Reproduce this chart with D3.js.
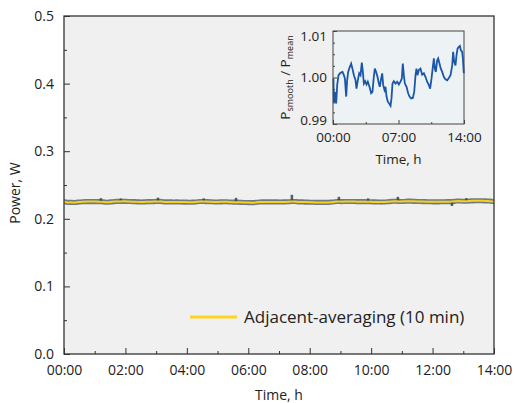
<!DOCTYPE html>
<html>
<head>
<meta charset="utf-8">
<script src="https://cdn.jsdelivr.net/npm/d3@7"></script>
<style>
  body { margin: 0; background: #fff; }
  text { font-family: "Open Sans", "Noto Sans", sans-serif; fill: #222; }
</style>
</head>
<body>
<svg id="chart" width="519" height="403"></svg>
<script>
// inset series: time (h) and P_smooth / P_mean
const ratioHours = [0.05, 0.09, 0.2, 0.34, 0.45, 0.59, 0.8, 1.02, 1.16, 1.27, 1.41, 1.51, 1.62, 1.8, 1.94, 2.08, 2.23, 2.41, 2.51, 2.65, 2.8, 2.94, 3.08, 3.19, 3.3, 3.44, 3.58, 3.72, 3.9, 4.08, 4.22, 4.36, 4.47, 4.61, 4.76, 4.9, 5.0, 5.15, 5.26, 5.36, 5.5, 5.61, 5.72, 5.86, 6.0, 6.15, 6.25, 6.36, 6.5, 6.68, 6.86, 7.04, 7.21, 7.36, 7.46, 7.57, 7.68, 7.86, 8.03, 8.18, 8.35, 8.53, 8.68, 8.82, 8.92, 9.03, 9.17, 9.35, 9.53, 9.71, 9.89, 10.06, 10.24, 10.38, 10.53, 10.67, 10.78, 10.88, 10.99, 11.13, 11.24, 11.38, 11.52, 11.67, 11.85, 12.02, 12.2, 12.38, 12.56, 12.74, 12.84, 12.95, 13.09, 13.2, 13.31, 13.45, 13.56, 13.66, 13.8, 13.88, 13.98];
const ratioValues = [0.9998, 0.9944, 0.9969, 0.9944, 0.9984, 1.0005, 1.0010, 1.0012, 1.0005, 0.9998, 0.9959, 0.9994, 1.0012, 1.0023, 1.0030, 1.0019, 1.0005, 0.9994, 0.9976, 0.9994, 1.0009, 1.0005, 1.0032, 1.0012, 0.9987, 0.9992, 0.9985, 0.9991, 0.9980, 0.9966, 0.9969, 1.0001, 1.0019, 1.0012, 1.0001, 0.9987, 0.9980, 0.9998, 1.0009, 0.9984, 0.9973, 0.9980, 0.9959, 0.9948, 0.9944, 0.9939, 0.9955, 0.9987, 0.9992, 0.9987, 0.9991, 0.9985, 0.9991, 0.9998, 1.0030, 1.0005, 0.9987, 0.9980, 0.9966, 0.9959, 0.9955, 0.9956, 0.9969, 1.0005, 1.0019, 1.0005, 1.0016, 1.0019, 1.0006, 1.0009, 1.0001, 0.9991, 0.9984, 0.9976, 0.9998, 1.0023, 1.0041, 1.0019, 1.0012, 1.0037, 1.0041, 1.0030, 1.0019, 1.0012, 1.0001, 0.9996, 0.9994, 0.9999, 1.0005, 1.0026, 1.0055, 1.0034, 1.0026, 1.0048, 1.0062, 1.0066, 1.0068, 1.0059, 1.0055, 1.0041, 1.0009];

// mean power (W) and the raw-data spikes sticking out of the band
const meanPower = 0.2252;
const bandHalf = 0.0038;
const spikeHours = [1.2, 1.85, 3.06, 4.55, 5.6, 7.42, 8.95, 9.9, 10.87, 12.63, 13.1];
const spikeValues = [0.2305, 0.2300, 0.2312, 0.2302, 0.2310, 0.2355, 0.2325, 0.2302, 0.2325, 0.2190, 0.2305];

const xTickLabels = ["00:00", "02:00", "04:00", "06:00", "08:00", "10:00", "12:00", "14:00"];
const yTicks = [0.0, 0.1, 0.2, 0.3, 0.4, 0.5];
const insetXLabels = ["00:00", "07:00", "14:00"];
const insetYTicks = [0.99, 1.00, 1.01];
const legendLabel = "Adjacent-averaging (10 min)";

const svg = d3.select("#chart");
const m = {left: 64, right: 25, top: 16, bottom: 49};
const w = 519 - m.left - m.right, h = 403 - m.top - m.bottom;

const g = svg.append("g").attr("transform", "translate(" + m.left + "," + m.top + ")");

const x = d3.scaleLinear().domain([0, 14]).range([0, w]);
const y = d3.scaleLinear().domain([0, 0.5]).range([h, 0]);

g.append("rect").attr("width", w).attr("height", h).attr("fill", "#eff0ef");

// raw band + spikes
const smooth = ratioHours.map((t, i) => ({t: t, v: meanPower * ratioValues[i]}));
smooth.unshift({t: 0, v: meanPower * ratioValues[0]});
smooth.push({t: 14, v: meanPower * ratioValues[ratioValues.length - 1]});

g.append("path").datum(smooth)
  .attr("fill", "#4f5c66").attr("opacity", 0.8)
  .attr("d", d3.area().x(d => x(d.t)).y0(d => y(d.v - bandHalf)).y1(d => y(d.v + bandHalf)).curve(d3.curveBasis));

g.selectAll(".spike").data(spikeHours).enter().append("line")
  .attr("x1", d => x(d)).attr("x2", d => x(d))
  .attr("y1", y(meanPower)).attr("y2", (d, i) => y(spikeValues[i]))
  .attr("stroke", "#3a454e").attr("stroke-width", 2.5).attr("opacity", 0.85);

g.append("path").datum(smooth)
  .attr("fill", "none").attr("stroke", "#f7cf1c").attr("stroke-width", 2)
  .attr("d", d3.line().x(d => x(d.t)).y(d => y(d.v)).curve(d3.curveBasis));

// frame
g.append("rect").attr("width", w).attr("height", h).attr("fill", "none")
  .attr("stroke", "#333").attr("stroke-width", 1.3);

// axes (ticks point inward)
g.append("g").attr("transform", "translate(0," + h + ")")
  .call(d3.axisBottom(x).tickValues(d3.range(0, 15, 2)).tickSize(-6).tickPadding(11)
    .tickFormat((d, i) => xTickLabels[i]));
g.append("g").attr("transform", "translate(0," + h + ")")
  .call(d3.axisBottom(x).tickValues(d3.range(1, 14, 2)).tickSize(-3).tickFormat(""));
g.append("g")
  .call(d3.axisLeft(y).tickValues(yTicks).tickSize(-6).tickPadding(10).tickFormat(d3.format(".1f")));
g.append("g")
  .call(d3.axisLeft(y).tickValues(d3.range(0.05, 0.5, 0.1)).tickSize(-3).tickFormat(""));

g.selectAll(".domain").remove();
g.selectAll(".tick line").attr("stroke", "#333");
g.selectAll(".tick text").attr("font-size", 14).attr("fill", "#222");

g.append("text").attr("x", w / 2).attr("y", h + 46).attr("text-anchor", "middle")
  .attr("font-size", 14).text("Time, h");
g.append("text").attr("transform", "translate(" + (-44) + "," + (h / 2 + 8) + ") rotate(-90)")
  .attr("text-anchor", "middle").attr("font-size", 14).text("Power, W");

// legend
g.append("line").attr("x1", 126).attr("x2", 173).attr("y1", 301).attr("y2", 301)
  .attr("stroke", "#ffd31f").attr("stroke-width", 3);
g.append("text").attr("x", 180).attr("y", 307).attr("font-size", 17).text(legendLabel);

// inset
const ix = 333, iy = 31, iw = 131, ih = 93;
const ig = svg.append("g").attr("transform", "translate(" + ix + "," + iy + ")");
const xi = d3.scaleLinear().domain([0, 14]).range([0, iw]);
const yi = d3.scaleLinear().domain([0.99, 1.01]).range([ih, 0]);

ig.append("rect").attr("width", iw).attr("height", ih).attr("fill", "#edf2f5");
ig.append("path").datum(ratioHours)
  .attr("fill", "none").attr("stroke", "#1c56a9").attr("stroke-width", 1.8)
  .attr("d", d3.line().x(d => xi(d)).y((d, i) => yi(ratioValues[i])));
ig.append("rect").attr("width", iw).attr("height", ih).attr("fill", "none")
  .attr("stroke", "#444").attr("stroke-width", 1);

ig.append("g").attr("transform", "translate(0," + ih + ")")
  .call(d3.axisBottom(xi).tickValues([0, 7, 14]).tickSize(-4).tickPadding(8)
    .tickFormat((d, i) => insetXLabels[i]));
ig.append("g").attr("transform", "translate(0," + ih + ")")
  .call(d3.axisBottom(xi).tickValues([3.5, 10.5]).tickSize(-2).tickFormat(""));
const iyAxis = ig.append("g")
  .call(d3.axisLeft(yi).tickValues(insetYTicks).tickSize(-4).tickPadding(6).tickFormat(d3.format(".2f")));
ig.append("g")
  .call(d3.axisLeft(yi).tickValues([0.9925, 0.995, 0.9975, 1.0025, 1.005, 1.0075]).tickSize(-2).tickFormat(""));
// end labels pulled inside the frame, as in the original
iyAxis.selectAll(".tick text").attr("dy", d => d === 0.99 ? "0.05em" : d === 1.01 ? "0.7em" : "0.32em");

ig.selectAll(".domain").remove();
ig.selectAll(".tick line").attr("stroke", "#444");
ig.selectAll(".tick text").attr("font-size", 13.5).attr("fill", "#222");

ig.append("text").attr("x", iw / 2).attr("y", ih + 40).attr("text-anchor", "middle")
  .attr("font-size", 13.5).text("Time, h");

const yl = ig.append("text").attr("transform", "translate(" + (-43) + "," + (ih / 2) + ") rotate(-90)")
  .attr("text-anchor", "middle").attr("font-size", 13.5);
yl.append("tspan").text("P");
yl.append("tspan").attr("font-size", 9).attr("dy", 3).text("smooth");
yl.append("tspan").attr("dy", -3).text(" / P");
yl.append("tspan").attr("font-size", 9).attr("dy", 3).text("mean");
</script>
</body>
</html>
